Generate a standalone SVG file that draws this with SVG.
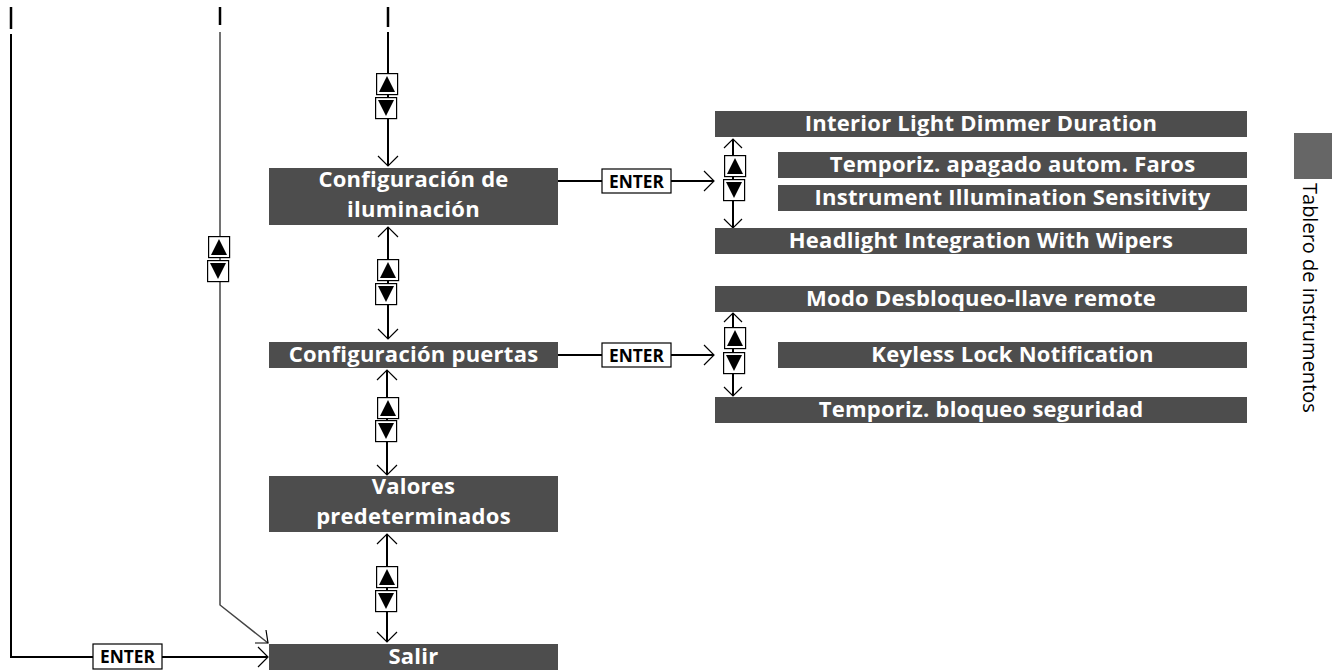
<svg xmlns="http://www.w3.org/2000/svg" xmlns:xlink="http://www.w3.org/1999/xlink" width="1332" height="670" viewBox="0 0 1332 670">
<style>
.box{fill:#4d4d4d}
.bt{font-family:"Open Sans","Noto Sans","Liberation Sans",sans-serif;font-weight:bold;font-size:22px;letter-spacing:0.25px;fill:#ffffff;text-anchor:middle}
.ln{stroke:#000;stroke-width:2;fill:none}
.thin{stroke:#444;stroke-width:1.5;fill:none}
.ah{stroke:#000;stroke-width:1.2;fill:none}
.tick{stroke:#000;stroke-width:2.5}
.ek{fill:#fff;stroke:#000;stroke-width:1.2}
.et{font-family:"Open Sans","Noto Sans","Liberation Sans",sans-serif;font-weight:bold;font-size:17px;fill:#000}
.side{font-family:"Open Sans","Noto Sans","Liberation Sans",sans-serif;font-size:20px;fill:#000}
</style>
<defs>
<g id="up"><rect x="0.6" y="0.6" width="21" height="21" fill="#fff" stroke="#000" stroke-width="1.2"/><polygon points="3,19 19,19 11,3" fill="#000"/></g>
<g id="dn"><rect x="0.6" y="0.6" width="21" height="21" fill="#fff" stroke="#000" stroke-width="1.2"/><polygon points="3,3 19,3 11,19" fill="#000"/></g>
</defs>

<g id="connectors">
<line class="tick" x1="11" y1="7" x2="11" y2="29"/>
<line class="tick" x1="220" y1="7" x2="220" y2="25"/>
<line class="tick" x1="388" y1="7" x2="388" y2="27"/>
<polyline class="ln" points="11,34 11,657 93,657"/>
<line class="ln" x1="162" y1="657" x2="267" y2="657"/>
<path class="ah" d="M258,647 L268,657 L258,667"/>
<polyline class="thin" points="220,32 220,605 268,643"/>
<path class="ah" d="M255,643 L268,643 L266,630"/>
<line class="ln" x1="388" y1="32" x2="388" y2="166"/>
<path class="ah" d="M378,156 L388,166 L398,156"/>
<line class="ln" x1="388" y1="227" x2="388" y2="338"/>
<path class="ah" d="M378,237 L388,227 L398,237"/>
<path class="ah" d="M378,329 L388,339 L398,329"/>
<line class="ln" x1="387" y1="370" x2="387" y2="474"/>
<path class="ah" d="M377,380 L387,370 L397,380"/>
<path class="ah" d="M377,465 L387,475 L397,465"/>
<line class="ln" x1="387" y1="534" x2="387" y2="642"/>
<path class="ah" d="M377,544 L387,534 L397,544"/>
<path class="ah" d="M377,632 L387,642 L397,632"/>
<line class="ln" x1="558" y1="181" x2="602" y2="181"/>
<line class="ln" x1="671" y1="181" x2="714" y2="181"/>
<path class="ah" d="M704,171 L714,181 L704,191"/>
<line class="ln" x1="558" y1="355" x2="602" y2="355"/>
<line class="ln" x1="671" y1="355" x2="714" y2="355"/>
<path class="ah" d="M704,345 L714,355 L704,365"/>
<line class="ln" x1="733" y1="139" x2="733" y2="228"/>
<path class="ah" d="M724,148 L733,139 L742,148"/>
<path class="ah" d="M724,219 L733,228 L742,219"/>
<line class="ln" x1="733" y1="313" x2="733" y2="396"/>
<path class="ah" d="M724,322 L733,313 L742,322"/>
<path class="ah" d="M724,387 L733,396 L742,387"/>
</g>

<g id="buttons">
<use xlink:href="#up" x="208" y="236"/><use xlink:href="#dn" x="207" y="260"/>
<use xlink:href="#up" x="376" y="73"/><use xlink:href="#dn" x="375" y="97"/>
<use xlink:href="#up" x="377" y="259"/><use xlink:href="#dn" x="375" y="283"/>
<use xlink:href="#up" x="377" y="397"/><use xlink:href="#dn" x="375" y="420"/>
<use xlink:href="#up" x="376" y="566"/><use xlink:href="#dn" x="375" y="590"/>
<use xlink:href="#up" x="724" y="155"/><use xlink:href="#dn" x="723" y="179"/>
<use xlink:href="#up" x="724" y="327"/><use xlink:href="#dn" x="723" y="352"/>
<g id="enter1"><rect class="ek" x="602" y="169" width="69" height="24"/><text class="et" x="636.5" y="187.5" text-anchor="middle" textLength="55" lengthAdjust="spacingAndGlyphs">ENTER</text></g>
<g id="enter2"><rect class="ek" x="602" y="343" width="69" height="24"/><text class="et" x="636.5" y="361.5" text-anchor="middle" textLength="55" lengthAdjust="spacingAndGlyphs">ENTER</text></g>
<g id="enter3"><rect class="ek" x="93" y="644" width="69" height="25"/><text class="et" x="127.5" y="663" text-anchor="middle" textLength="55" lengthAdjust="spacingAndGlyphs">ENTER</text></g>
</g>

<g id="n-iluminacion"><rect class="box" x="269" y="168" width="289" height="57"/><text class="bt" x="413.5" y="187">Configuración de</text><text class="bt" x="413.5" y="217">iluminación</text></g>
<g id="n-puertas"><rect class="box" x="269" y="342" width="289" height="26"/><text class="bt" x="413.5" y="362">Configuración puertas</text></g>
<g id="n-valores"><rect class="box" x="269" y="476" width="289" height="56"/><text class="bt" x="413.5" y="494">Valores</text><text class="bt" x="413.5" y="524">predeterminados</text></g>
<g id="n-salir"><rect class="box" x="269" y="644" width="289" height="26"/><text class="bt" x="413.5" y="664">Salir</text></g>

<g id="n-interior"><rect class="box" x="715" y="111" width="532" height="26"/><text class="bt" x="981" y="131">Interior Light Dimmer Duration</text></g>
<g id="n-temporiz-faros"><rect class="box" x="778" y="152" width="469" height="26"/><text class="bt" x="1012.5" y="172">Temporiz. apagado autom. Faros</text></g>
<g id="n-instrument"><rect class="box" x="778" y="185" width="469" height="26"/><text class="bt" x="1012.5" y="205">Instrument Illumination Sensitivity</text></g>
<g id="n-headlight"><rect class="box" x="715" y="228" width="532" height="26"/><text class="bt" x="981" y="248">Headlight Integration With Wipers</text></g>
<g id="n-modo"><rect class="box" x="715" y="286" width="532" height="26"/><text class="bt" x="981" y="306">Modo Desbloqueo-llave remote</text></g>
<g id="n-keyless"><rect class="box" x="778" y="342" width="469" height="26"/><text class="bt" x="1012.5" y="362">Keyless Lock Notification</text></g>
<g id="n-temporiz-bloqueo"><rect class="box" x="715" y="397" width="532" height="26"/><text class="bt" x="981" y="417">Temporiz. bloqueo seguridad</text></g>

<g id="side-tab"><rect x="1294" y="133" width="38" height="46" fill="#666666"/><text class="side" transform="translate(1303,183) rotate(90)">Tablero de instrumentos</text></g>
</svg>
